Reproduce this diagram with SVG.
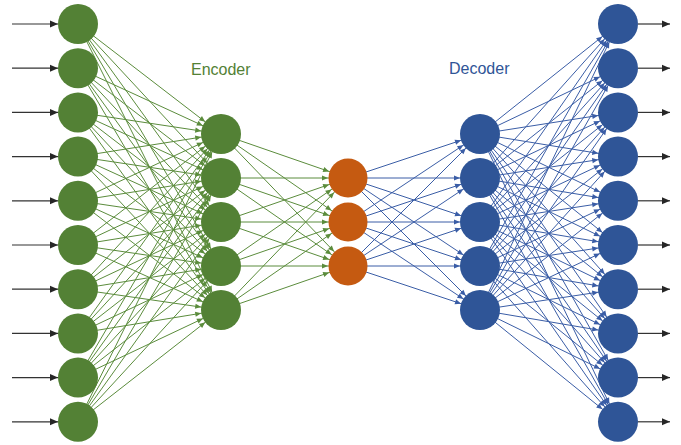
<svg xmlns="http://www.w3.org/2000/svg" width="681" height="445" viewBox="0 0 681 445">
<style>
.g{stroke:#5B8C3C;stroke-width:1;marker-end:url(#ag)}
.b{stroke:#3A5DA6;stroke-width:1;marker-end:url(#ab)}
.io{stroke:#333;stroke-width:1.2}
.ng{fill:#538135}
.no{fill:#C55A11}
.nb{fill:#2F5597}
.lbl{font-family:"Liberation Sans",Arial,sans-serif;font-size:16px}
</style>
<defs>
<marker id="ag" markerUnits="userSpaceOnUse" markerWidth="1" markerHeight="1" overflow="visible" orient="auto" refX="0" refY="0"><path d="M-20,0 L-26,-2.6 L-26,2.6 Z" fill="#5B8C3C"/></marker>
<marker id="ab" markerUnits="userSpaceOnUse" markerWidth="1" markerHeight="1" overflow="visible" orient="auto" refX="0" refY="0"><path d="M-20,0 L-26,-2.6 L-26,2.6 Z" fill="#3A5DA6"/></marker>
<marker id="ak" markerUnits="userSpaceOnUse" markerWidth="1" markerHeight="1" overflow="visible" orient="auto" refX="0" refY="0"><path d="M0,0 L-8,-3.5 L-8,3.5 Z" fill="#262626"/></marker>
</defs>
<g id="connectors">
<g id="inputs" class="io" marker-end="url(#ak)">
<line x1="12" y1="24" x2="58" y2="24"/>
<line x1="12" y1="68.2" x2="58" y2="68.2"/>
<line x1="12" y1="112.4" x2="58" y2="112.4"/>
<line x1="12" y1="156.6" x2="58" y2="156.6"/>
<line x1="12" y1="200.8" x2="58" y2="200.8"/>
<line x1="12" y1="245" x2="58" y2="245"/>
<line x1="12" y1="289.2" x2="58" y2="289.2"/>
<line x1="12" y1="333.4" x2="58" y2="333.4"/>
<line x1="12" y1="377.6" x2="58" y2="377.6"/>
<line x1="12" y1="421.8" x2="58" y2="421.8"/>
</g>
<g id="outputs" class="io" marker-end="url(#ak)">
<line x1="638" y1="24" x2="670" y2="24"/>
<line x1="638" y1="68.2" x2="670" y2="68.2"/>
<line x1="638" y1="112.4" x2="670" y2="112.4"/>
<line x1="638" y1="156.6" x2="670" y2="156.6"/>
<line x1="638" y1="200.8" x2="670" y2="200.8"/>
<line x1="638" y1="245" x2="670" y2="245"/>
<line x1="638" y1="289.2" x2="670" y2="289.2"/>
<line x1="638" y1="333.4" x2="670" y2="333.4"/>
<line x1="638" y1="377.6" x2="670" y2="377.6"/>
<line x1="638" y1="421.8" x2="670" y2="421.8"/>
</g>
<g id="enc1">
<line class="g" x1="78" y1="24" x2="221" y2="134"/><line class="g" x1="78" y1="24" x2="221" y2="178"/><line class="g" x1="78" y1="24" x2="221" y2="222"/><line class="g" x1="78" y1="24" x2="221" y2="266"/><line class="g" x1="78" y1="24" x2="221" y2="310"/>
<line class="g" x1="78" y1="68.2" x2="221" y2="134"/><line class="g" x1="78" y1="68.2" x2="221" y2="178"/><line class="g" x1="78" y1="68.2" x2="221" y2="222"/><line class="g" x1="78" y1="68.2" x2="221" y2="266"/><line class="g" x1="78" y1="68.2" x2="221" y2="310"/>
<line class="g" x1="78" y1="112.4" x2="221" y2="134"/><line class="g" x1="78" y1="112.4" x2="221" y2="178"/><line class="g" x1="78" y1="112.4" x2="221" y2="222"/><line class="g" x1="78" y1="112.4" x2="221" y2="266"/><line class="g" x1="78" y1="112.4" x2="221" y2="310"/>
<line class="g" x1="78" y1="156.6" x2="221" y2="134"/><line class="g" x1="78" y1="156.6" x2="221" y2="178"/><line class="g" x1="78" y1="156.6" x2="221" y2="222"/><line class="g" x1="78" y1="156.6" x2="221" y2="266"/><line class="g" x1="78" y1="156.6" x2="221" y2="310"/>
<line class="g" x1="78" y1="200.8" x2="221" y2="134"/><line class="g" x1="78" y1="200.8" x2="221" y2="178"/><line class="g" x1="78" y1="200.8" x2="221" y2="222"/><line class="g" x1="78" y1="200.8" x2="221" y2="266"/><line class="g" x1="78" y1="200.8" x2="221" y2="310"/>
<line class="g" x1="78" y1="245" x2="221" y2="134"/><line class="g" x1="78" y1="245" x2="221" y2="178"/><line class="g" x1="78" y1="245" x2="221" y2="222"/><line class="g" x1="78" y1="245" x2="221" y2="266"/><line class="g" x1="78" y1="245" x2="221" y2="310"/>
<line class="g" x1="78" y1="289.2" x2="221" y2="134"/><line class="g" x1="78" y1="289.2" x2="221" y2="178"/><line class="g" x1="78" y1="289.2" x2="221" y2="222"/><line class="g" x1="78" y1="289.2" x2="221" y2="266"/><line class="g" x1="78" y1="289.2" x2="221" y2="310"/>
<line class="g" x1="78" y1="333.4" x2="221" y2="134"/><line class="g" x1="78" y1="333.4" x2="221" y2="178"/><line class="g" x1="78" y1="333.4" x2="221" y2="222"/><line class="g" x1="78" y1="333.4" x2="221" y2="266"/><line class="g" x1="78" y1="333.4" x2="221" y2="310"/>
<line class="g" x1="78" y1="377.6" x2="221" y2="134"/><line class="g" x1="78" y1="377.6" x2="221" y2="178"/><line class="g" x1="78" y1="377.6" x2="221" y2="222"/><line class="g" x1="78" y1="377.6" x2="221" y2="266"/><line class="g" x1="78" y1="377.6" x2="221" y2="310"/>
<line class="g" x1="78" y1="421.8" x2="221" y2="134"/><line class="g" x1="78" y1="421.8" x2="221" y2="178"/><line class="g" x1="78" y1="421.8" x2="221" y2="222"/><line class="g" x1="78" y1="421.8" x2="221" y2="266"/><line class="g" x1="78" y1="421.8" x2="221" y2="310"/>
</g>
<g id="enc2">
<line class="g" x1="221" y1="134" x2="348" y2="178"/><line class="g" x1="221" y1="134" x2="348" y2="222"/><line class="g" x1="221" y1="134" x2="348" y2="266"/>
<line class="g" x1="221" y1="178" x2="348" y2="178"/><line class="g" x1="221" y1="178" x2="348" y2="222"/><line class="g" x1="221" y1="178" x2="348" y2="266"/>
<line class="g" x1="221" y1="222" x2="348" y2="178"/><line class="g" x1="221" y1="222" x2="348" y2="222"/><line class="g" x1="221" y1="222" x2="348" y2="266"/>
<line class="g" x1="221" y1="266" x2="348" y2="178"/><line class="g" x1="221" y1="266" x2="348" y2="222"/><line class="g" x1="221" y1="266" x2="348" y2="266"/>
<line class="g" x1="221" y1="310" x2="348" y2="178"/><line class="g" x1="221" y1="310" x2="348" y2="222"/><line class="g" x1="221" y1="310" x2="348" y2="266"/>
</g>
<g id="dec1">
<line class="b" x1="348" y1="178" x2="480" y2="134"/><line class="b" x1="348" y1="178" x2="480" y2="178"/><line class="b" x1="348" y1="178" x2="480" y2="222"/><line class="b" x1="348" y1="178" x2="480" y2="266"/><line class="b" x1="348" y1="178" x2="480" y2="310"/>
<line class="b" x1="348" y1="222" x2="480" y2="134"/><line class="b" x1="348" y1="222" x2="480" y2="178"/><line class="b" x1="348" y1="222" x2="480" y2="222"/><line class="b" x1="348" y1="222" x2="480" y2="266"/><line class="b" x1="348" y1="222" x2="480" y2="310"/>
<line class="b" x1="348" y1="266" x2="480" y2="134"/><line class="b" x1="348" y1="266" x2="480" y2="178"/><line class="b" x1="348" y1="266" x2="480" y2="222"/><line class="b" x1="348" y1="266" x2="480" y2="266"/><line class="b" x1="348" y1="266" x2="480" y2="310"/>
</g>
<g id="dec2">
<line class="b" x1="480" y1="134" x2="618" y2="24"/><line class="b" x1="480" y1="134" x2="618" y2="68.2"/><line class="b" x1="480" y1="134" x2="618" y2="112.4"/><line class="b" x1="480" y1="134" x2="618" y2="156.6"/><line class="b" x1="480" y1="134" x2="618" y2="200.8"/><line class="b" x1="480" y1="134" x2="618" y2="245"/><line class="b" x1="480" y1="134" x2="618" y2="289.2"/><line class="b" x1="480" y1="134" x2="618" y2="333.4"/><line class="b" x1="480" y1="134" x2="618" y2="377.6"/><line class="b" x1="480" y1="134" x2="618" y2="421.8"/>
<line class="b" x1="480" y1="178" x2="618" y2="24"/><line class="b" x1="480" y1="178" x2="618" y2="68.2"/><line class="b" x1="480" y1="178" x2="618" y2="112.4"/><line class="b" x1="480" y1="178" x2="618" y2="156.6"/><line class="b" x1="480" y1="178" x2="618" y2="200.8"/><line class="b" x1="480" y1="178" x2="618" y2="245"/><line class="b" x1="480" y1="178" x2="618" y2="289.2"/><line class="b" x1="480" y1="178" x2="618" y2="333.4"/><line class="b" x1="480" y1="178" x2="618" y2="377.6"/><line class="b" x1="480" y1="178" x2="618" y2="421.8"/>
<line class="b" x1="480" y1="222" x2="618" y2="24"/><line class="b" x1="480" y1="222" x2="618" y2="68.2"/><line class="b" x1="480" y1="222" x2="618" y2="112.4"/><line class="b" x1="480" y1="222" x2="618" y2="156.6"/><line class="b" x1="480" y1="222" x2="618" y2="200.8"/><line class="b" x1="480" y1="222" x2="618" y2="245"/><line class="b" x1="480" y1="222" x2="618" y2="289.2"/><line class="b" x1="480" y1="222" x2="618" y2="333.4"/><line class="b" x1="480" y1="222" x2="618" y2="377.6"/><line class="b" x1="480" y1="222" x2="618" y2="421.8"/>
<line class="b" x1="480" y1="266" x2="618" y2="24"/><line class="b" x1="480" y1="266" x2="618" y2="68.2"/><line class="b" x1="480" y1="266" x2="618" y2="112.4"/><line class="b" x1="480" y1="266" x2="618" y2="156.6"/><line class="b" x1="480" y1="266" x2="618" y2="200.8"/><line class="b" x1="480" y1="266" x2="618" y2="245"/><line class="b" x1="480" y1="266" x2="618" y2="289.2"/><line class="b" x1="480" y1="266" x2="618" y2="333.4"/><line class="b" x1="480" y1="266" x2="618" y2="377.6"/><line class="b" x1="480" y1="266" x2="618" y2="421.8"/>
<line class="b" x1="480" y1="310" x2="618" y2="24"/><line class="b" x1="480" y1="310" x2="618" y2="68.2"/><line class="b" x1="480" y1="310" x2="618" y2="112.4"/><line class="b" x1="480" y1="310" x2="618" y2="156.6"/><line class="b" x1="480" y1="310" x2="618" y2="200.8"/><line class="b" x1="480" y1="310" x2="618" y2="245"/><line class="b" x1="480" y1="310" x2="618" y2="289.2"/><line class="b" x1="480" y1="310" x2="618" y2="333.4"/><line class="b" x1="480" y1="310" x2="618" y2="377.6"/><line class="b" x1="480" y1="310" x2="618" y2="421.8"/>
</g>
</g>
<g id="input-layer">
<g id="in1"><circle class="ng" cx="78" cy="24" r="20"/></g>
<g id="in2"><circle class="ng" cx="78" cy="68.2" r="20"/></g>
<g id="in3"><circle class="ng" cx="78" cy="112.4" r="20"/></g>
<g id="in4"><circle class="ng" cx="78" cy="156.6" r="20"/></g>
<g id="in5"><circle class="ng" cx="78" cy="200.8" r="20"/></g>
<g id="in6"><circle class="ng" cx="78" cy="245" r="20"/></g>
<g id="in7"><circle class="ng" cx="78" cy="289.2" r="20"/></g>
<g id="in8"><circle class="ng" cx="78" cy="333.4" r="20"/></g>
<g id="in9"><circle class="ng" cx="78" cy="377.6" r="20"/></g>
<g id="in10"><circle class="ng" cx="78" cy="421.8" r="20"/></g>
</g>
<g id="encoder-layer">
<g id="e1"><circle class="ng" cx="221" cy="134" r="20"/></g>
<g id="e2"><circle class="ng" cx="221" cy="178" r="20"/></g>
<g id="e3"><circle class="ng" cx="221" cy="222" r="20"/></g>
<g id="e4"><circle class="ng" cx="221" cy="266" r="20"/></g>
<g id="e5"><circle class="ng" cx="221" cy="310" r="20"/></g>
</g>
<g id="latent-layer">
<g id="z1"><circle class="no" cx="348" cy="178" r="19.5"/></g>
<g id="z2"><circle class="no" cx="348" cy="222" r="19.5"/></g>
<g id="z3"><circle class="no" cx="348" cy="266" r="19.5"/></g>
</g>
<g id="decoder-layer">
<g id="d1"><circle class="nb" cx="480" cy="134" r="20"/></g>
<g id="d2"><circle class="nb" cx="480" cy="178" r="20"/></g>
<g id="d3"><circle class="nb" cx="480" cy="222" r="20"/></g>
<g id="d4"><circle class="nb" cx="480" cy="266" r="20"/></g>
<g id="d5"><circle class="nb" cx="480" cy="310" r="20"/></g>
</g>
<g id="output-layer">
<g id="out1"><circle class="nb" cx="618" cy="24" r="20"/></g>
<g id="out2"><circle class="nb" cx="618" cy="68.2" r="20"/></g>
<g id="out3"><circle class="nb" cx="618" cy="112.4" r="20"/></g>
<g id="out4"><circle class="nb" cx="618" cy="156.6" r="20"/></g>
<g id="out5"><circle class="nb" cx="618" cy="200.8" r="20"/></g>
<g id="out6"><circle class="nb" cx="618" cy="245" r="20"/></g>
<g id="out7"><circle class="nb" cx="618" cy="289.2" r="20"/></g>
<g id="out8"><circle class="nb" cx="618" cy="333.4" r="20"/></g>
<g id="out9"><circle class="nb" cx="618" cy="377.6" r="20"/></g>
<g id="out10"><circle class="nb" cx="618" cy="421.8" r="20"/></g>
</g>
<g id="labels">
<text class="lbl" x="191" y="75" fill="#538135">Encoder</text>
<text class="lbl" x="449" y="74" fill="#2F5597">Decoder</text>
</g>
</svg>
